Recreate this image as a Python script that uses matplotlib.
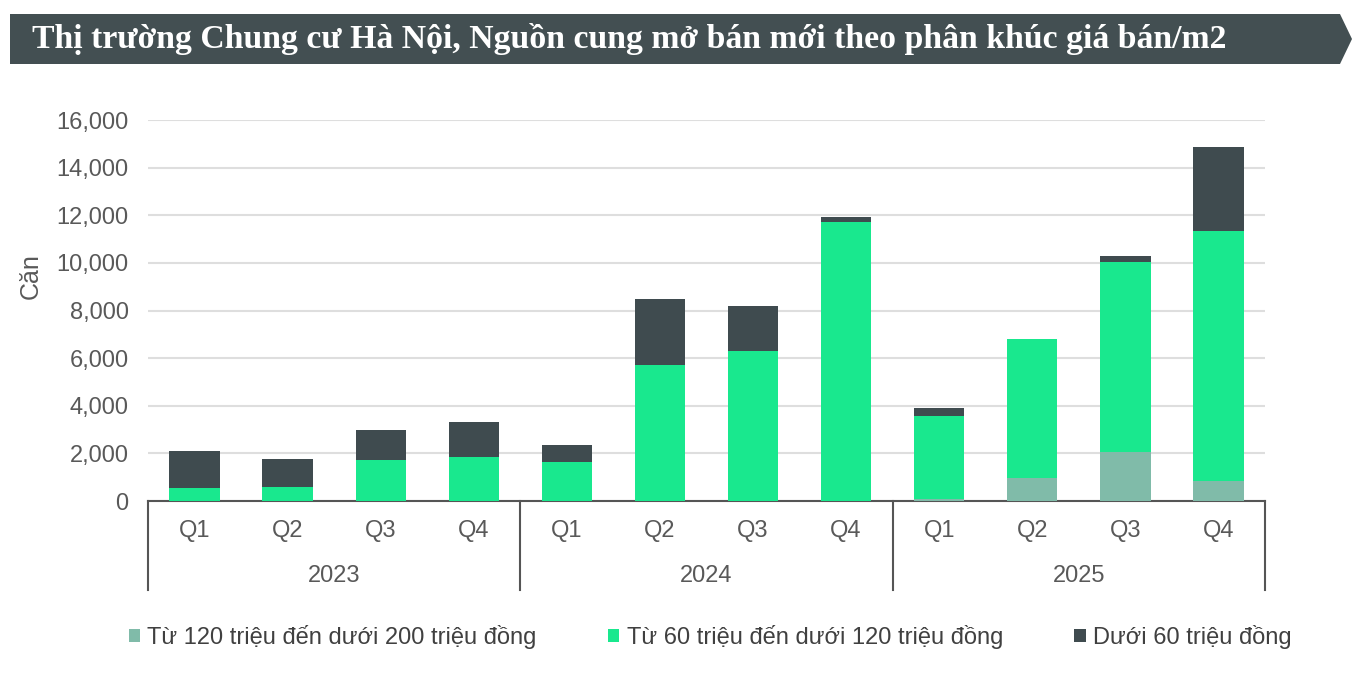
import numpy as np
import matplotlib.pyplot as plt
from matplotlib.patches import Polygon, Patch

plt.rcParams['font.family'] = ['Liberation Sans', 'DejaVu Sans']

# Data
years = ["2023", "2024", "2025"]
quarters = ["Q1", "Q2", "Q3", "Q4"]
series_names = ["Từ 120 triệu đến dưới 200 triệu đồng",
                "Từ 60 triệu đến dưới 120 triệu đồng",
                "Dưới 60 triệu đồng"]
seg_120_200 = [0, 0, 0, 0, 0, 0, 0, 0, 100, 980, 2050, 850]
seg_60_120 = [550, 575, 1720, 1840, 1640, 5710, 6300, 11720, 3470, 5820, 7970, 10490]
seg_under60 = [1560, 1205, 1280, 1490, 710, 2770, 1890, 210, 320, 0, 270, 3540]
colors = ["#80bba9", "#19e88e", "#3f4b4f"]
yticks = [0, 2000, 4000, 6000, 8000, 10000, 12000, 14000, 16000]

W, H = 1360, 677
fig = plt.figure(figsize=(W / 100, H / 100), dpi=100)
fig.patch.set_facecolor("white")

# Title banner
pts = [(10, 14), (1340, 14), (1352, 39), (1340, 64), (10, 64)]
banner = Polygon([(x / W, 1 - y / H) for x, y in pts], closed=True,
                 transform=fig.transFigure, facecolor="#434f52", edgecolor="none")
fig.patches.append(banner)
fig.text(32 / W, 1 - 39 / H, "Thị trường Chung cư Hà Nội, Nguồn cung mở bán mới theo phân khúc giá bán/m2",
         color="white", fontsize=24.3, fontweight="bold", family=["Liberation Serif", "DejaVu Serif"],
         ha="left", va="center")

ax = fig.add_axes([148 / W, 1 - 501 / H, (1265 - 148) / W, (501 - 120) / H])
x = np.arange(len(seg_60_120))
b1 = np.array(seg_120_200)
b2 = np.array(seg_60_120)
b3 = np.array(seg_under60)
ax.bar(x, b1, width=0.54, color=colors[0], zorder=3)
ax.bar(x, b2, width=0.54, bottom=b1, color=colors[1], zorder=3)
ax.bar(x, b3, width=0.54, bottom=b1 + b2, color=colors[2], zorder=3)

ax.set_xlim(-0.5, len(x) - 0.5)
ax.set_ylim(0, 16000)
ax.set_yticks(yticks)
ax.set_yticklabels([f"{v:,}" for v in yticks])
ax.tick_params(axis="y", length=0, pad=14, labelsize=17, labelcolor="#595959")
ax.set_xticks([])
ax.grid(axis="y", color="#dedede", linewidth=1.5, zorder=0)
for s in ["top", "right", "left"]:
    ax.spines[s].set_visible(False)
ax.spines["bottom"].set_color("#555555")
ax.spines["bottom"].set_linewidth(1.5)
ax.set_ylabel("Căn", fontsize=18, color="#595959")
ax.yaxis.set_label_coords(-0.094, 0.59)

# Category labels
trans = ax.get_xaxis_transform()
for i in x:
    ax.text(i, -0.078, quarters[i % 4], transform=trans, ha="center", va="center",
            fontsize=17, color="#595959")
for j, yr in enumerate(years):
    ax.text(j * 4 + 1.5, -0.196, yr, transform=trans, ha="center", va="center",
            fontsize=17, color="#595959")
for k in range(len(years) + 1):
    ax.plot([k * 4 - 0.5, k * 4 - 0.5], [0, -0.234], transform=trans, color="#555555",
            linewidth=1.5, clip_on=False)

handles = [Patch(facecolor=c, edgecolor="none") for c in colors]
fig.legend(handles, series_names, loc="center", bbox_to_anchor=(0.522, 1 - 637 / H), ncol=3,
           frameon=False, fontsize=17, handlelength=0.5, handleheight=0.5, handletextpad=0.3,
           columnspacing=3.0, labelcolor="#404040")

fig.savefig("out.png", dpi=100)
